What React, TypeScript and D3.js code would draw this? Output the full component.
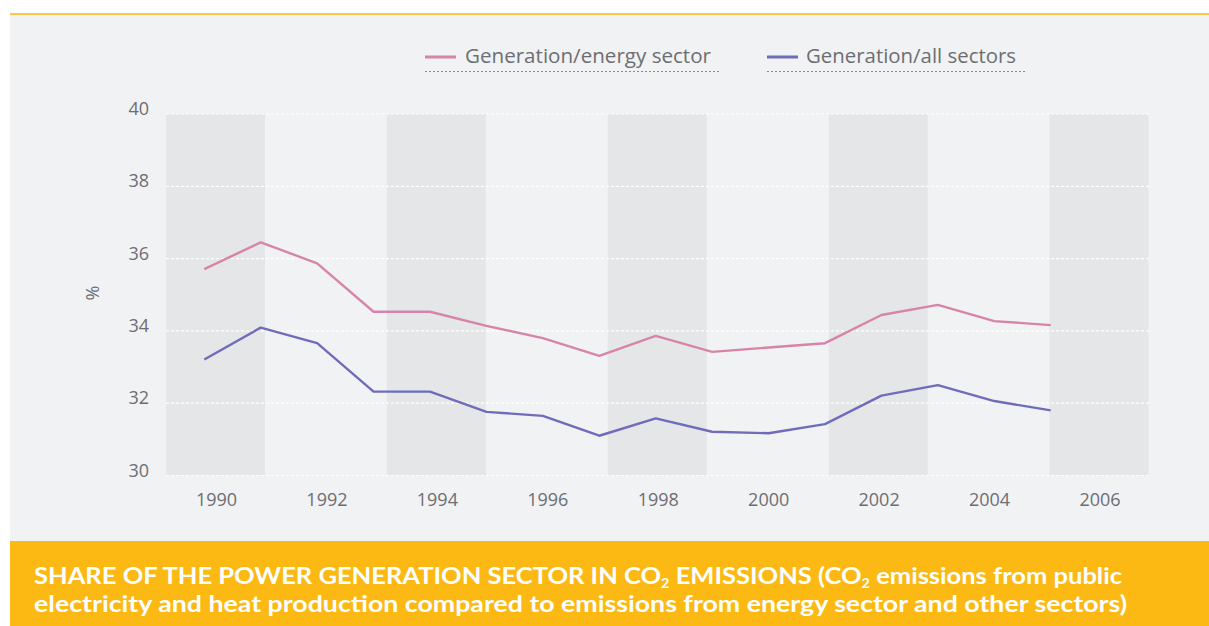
import React from "react";
import * as d3 from "d3";

const years = [1990, 1991, 1992, 1993, 1994, 1995, 1996, 1997, 1998, 1999, 2000, 2001, 2002, 2003, 2004, 2005];
const energySector = [35.71, 36.45, 35.87, 34.53, 34.53, 34.14, 33.8, 33.31, 33.86, 33.42, 33.54, 33.66, 34.44, 34.72, 34.27, 34.16];
const allSectors = [33.21, 34.09, 33.66, 32.32, 32.32, 31.76, 31.65, 31.1, 31.58, 31.21, 31.17, 31.42, 32.21, 32.5, 32.06, 31.8];
const yTicks = [30, 32, 34, 36, 38, 40];
const xTickLabels = [1990, 1992, 1994, 1996, 1998, 2000, 2002, 2004, 2006];
const shadedYears = [1990, 1994, 1998, 2002, 2006];
const seriesNames = ["Generation/energy sector", "Generation/all sectors"];
const titleLine1a = "SHARE OF THE POWER GENERATION SECTOR IN CO";
const titleLine1b = " EMISSIONS (CO";
const titleLine1c = " emissions from public";
const titleLine2 = "electricity and heat production compared to emissions from energy sector and other sectors)";

const W = 1209;
const H = 626;
const PINK = "#d685a9";
const BLUE = "#6f6cb9";
const ORANGE = "#fdb913";
const TEXT = "#6d6e71";
const FONT = "'Open Sans', 'Noto Sans', sans-serif";
const TITLE_FONT = "Lato, 'Open Sans', sans-serif";

export default function App() {
  const plotL = 166;
  const plotR = 1150;
  const y = d3.scaleLinear().domain([30, 40]).range([475.5, 114]);
  const xd = d3.scaleLinear().domain([1990, 2005]).range([204.3, 1050.7]);
  const xl = d3.scaleLinear().domain([1990, 2006]).range([216.5, 1100]);

  const line = d3
    .line<number>()
    .x((_, i) => xd(years[i]))
    .y((v) => y(v));

  return (
    <svg
      width={W}
      height={H}
      style={{ position: "absolute", left: 0, top: 0, display: "block" }}
      fontFamily={FONT}
    >
      <rect x={0} y={0} width={W} height={H} fill="#ffffff" />
      <rect x={10} y={14} width={W - 10} height={527} fill="#f1f2f4" />
      <line x1={10} x2={W} y1={14} y2={14} stroke={ORANGE} strokeWidth={1.5} />

      {shadedYears.map((yr) => (
        <rect key={yr} x={xl(yr) - 50.5} y={y(40)} width={99} height={y(30) - y(40)} fill="#e5e6e8" />
      ))}

      {yTicks.map((t) => (
        <g key={t}>
          <line
            x1={plotL}
            x2={plotR}
            y1={y(t)}
            y2={y(t)}
            stroke="#ffffff"
            strokeWidth={1.2}
            strokeDasharray="3 2"
          />
          <text x={149} y={y(t) + 1} textAnchor="end" fontSize={18} fill={TEXT}>
            {t}
          </text>
        </g>
      ))}

      {xTickLabels.map((t) => (
        <text key={t} x={xl(t)} y={506} textAnchor="middle" fontSize={18} fill={TEXT}>
          {t}
        </text>
      ))}

      <text
        transform={`translate(99,293) rotate(-90)`}
        textAnchor="middle"
        fontSize={18}
        fill={TEXT}
      >
        %
      </text>

      <path d={line(energySector) || ""} fill="none" stroke={PINK} strokeWidth={2.4} strokeLinejoin="round" />
      <path d={line(allSectors) || ""} fill="none" stroke={BLUE} strokeWidth={2.4} strokeLinejoin="round" />

      {/* Legend */}
      {[
        { name: seriesNames[0], color: PINK, x0: 425, tx: 465, tw: 246, ux: 720 },
        { name: seriesNames[1], color: BLUE, x0: 767, tx: 806, tw: 210, ux: 1027 },
      ].map((l) => (
        <g key={l.name}>
          <line x1={l.x0} x2={l.x0 + 31} y1={57} y2={57} stroke={l.color} strokeWidth={3} />
          <text
            x={l.tx}
            y={63}
            fontSize={20}
            fill={TEXT}
            textLength={l.tw}
            lengthAdjust="spacingAndGlyphs"
          >
            {l.name}
          </text>
          <line
            x1={l.x0}
            x2={l.ux}
            y1={71.5}
            y2={71.5}
            stroke="#8a8b8e"
            strokeWidth={1}
            strokeDasharray="2 2"
          />
        </g>
      ))}

      {/* Title band */}
      <rect x={10} y={541} width={W - 10} height={H - 541} fill={ORANGE} />
      <text
        x={34}
        y={584}
        fontFamily={TITLE_FONT}
        fontSize={23}
        fontWeight="bold"
        fill="#ffffff"
        textLength={1088}
        lengthAdjust="spacingAndGlyphs"
      >
        <tspan>{titleLine1a}</tspan>
        <tspan dy={4} fontSize={13}>2</tspan>
        <tspan dy={-4}>{titleLine1b}</tspan>
        <tspan dy={4} fontSize={13}>2</tspan>
        <tspan dy={-4}>{titleLine1c}</tspan>
      </text>
      <text
        x={34}
        y={612}
        fontFamily={TITLE_FONT}
        fontSize={23}
        fontWeight="bold"
        fill="#ffffff"
        textLength={1093}
        lengthAdjust="spacingAndGlyphs"
      >
        {titleLine2}
      </text>
    </svg>
  );
}
